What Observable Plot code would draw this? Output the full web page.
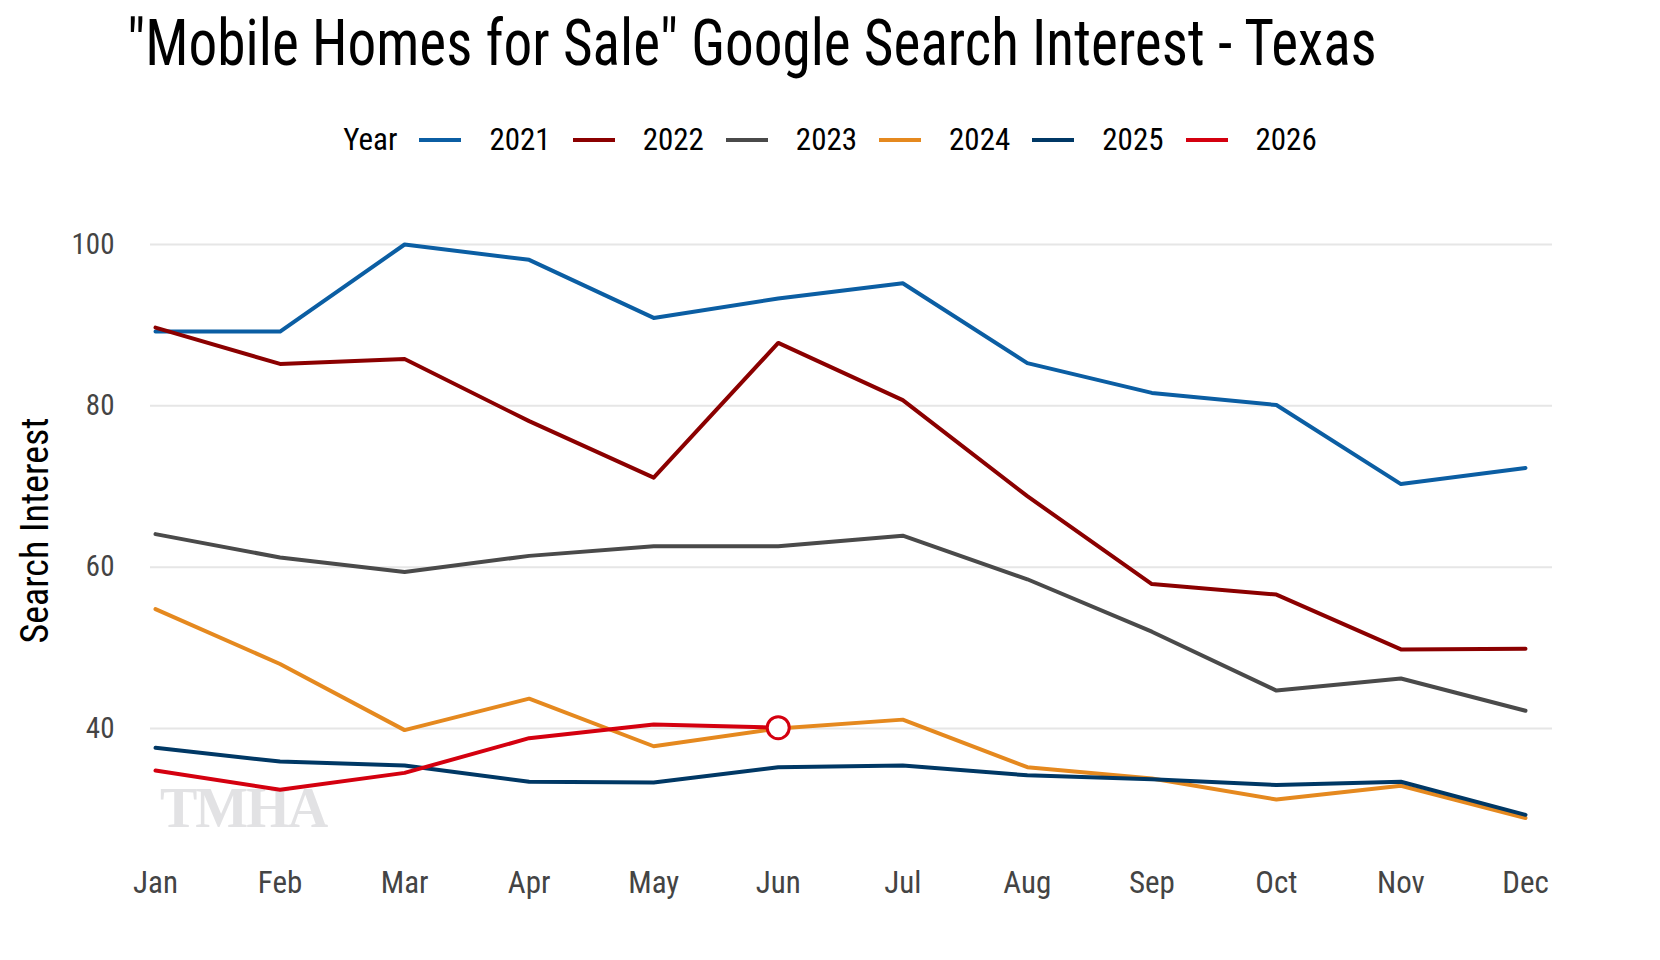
<!DOCTYPE html>
<html><head><meta charset="utf-8">
<script src="https://cdn.jsdelivr.net/npm/d3@7"></script>
<script src="https://cdn.jsdelivr.net/npm/@observablehq/plot@0.6"></script>
<style>
body{margin:0;background:#fff;font-family:"Roboto Condensed","DejaVu Sans",sans-serif;font-stretch:condensed;}
#wrap{position:relative;width:1660px;height:960px;}
#title{position:absolute;left:127px;top:6px;font-size:64px;color:#000;white-space:nowrap;transform:scaleX(0.895);transform-origin:left top;}
#legend{position:absolute;left:0;width:1660px;top:121px;display:flex;justify-content:center;align-items:center;font-size:31px;color:#000;}
#legend .it{display:flex;align-items:center;margin-left:22px;}
#legend .sw{width:42px;height:4px;margin-right:28px;}
#logo{position:absolute;left:160px;top:776px;font-size:56px;font-weight:bold;color:#e2e2e4;font-family:"Liberation Serif",serif;letter-spacing:-2px;}
#chart{position:absolute;left:0;top:0;}
svg text{font-stretch:condensed;}
</style></head><body>
<div id="wrap">
<div id="logo">TMHA</div>
<div id="chart"></div>
<div id="title">"Mobile Homes for Sale" Google Search Interest - Texas</div>
<div id="legend"></div>
</div>
<script>
const months=["Jan","Feb","Mar","Apr","May","Jun","Jul","Aug","Sep","Oct","Nov","Dec"];
const years=["2021","2022","2023","2024","2025","2026"];
const colors=["#0b5ea3","#8b0000","#4a4a4a","#e5891f","#003865","#d4000f"];
const v2021=[89.2,89.2,100,98.1,90.9,93.3,95.2,85.3,81.6,80.1,70.3,72.3];
const v2022=[89.7,85.2,85.8,78.1,71.1,87.8,80.7,68.8,57.9,56.6,49.8,49.9];
const v2023=[64.1,61.2,59.4,61.4,62.6,62.6,63.9,58.5,52.0,44.7,46.2,42.2];
const v2024=[54.8,48.0,39.8,43.7,37.8,40.0,41.1,35.2,33.8,31.2,32.9,28.9];
const v2025=[37.6,35.9,35.4,33.4,33.3,35.2,35.4,34.2,33.7,33.0,33.4,29.3];
const v2026=[34.8,32.4,34.5,38.8,40.5,40.1];
const yTicks=[40,60,80,100];
const series=[v2021,v2022,v2023,v2024,v2025,v2026];
const data=series.flatMap((s,i)=>s.map((v,j)=>({year:years[i],m:j+1,v})));
const last2026={year:"2026",m:v2026.length,v:v2026[v2026.length-1]};
const lg=document.getElementById("legend");
lg.innerHTML='<span>Year</span>'+years.map((y,i)=>`<span class="it"><span class="sw" style="background:${colors[i]}"></span>${y}</span>`).join("");
const plot=Plot.plot({
  width:1660,height:960,marginLeft:150,marginRight:108,marginTop:200,marginBottom:100,
  style:{fontFamily:'"Roboto Condensed","DejaVu Sans",sans-serif',fontSize:"30px",background:"transparent"},
  x:{domain:[1,12],range:[155,1525],tickSize:0,label:null},
  y:{domain:[40,100],range:[728,244],tickSize:0,label:null},
  color:{domain:years,range:colors},
  marks:[
    Plot.ruleY(yTicks,{stroke:"#e6e6e6",strokeWidth:2}),
    Plot.axisX({ticks:d3.range(1,13),tickFormat:d=>months[d-1],tickSize:0,tickPadding:0,fill:"#444",fontSize:31,dy:10,label:null}),
    Plot.axisY({ticks:yTicks,tickSize:0,tickPadding:36,fill:"#444",fontSize:29,label:null}),
    Plot.text(["Search Interest"],{frameAnchor:"left",textAnchor:"middle",dx:-115,dy:0,rotate:-90,fontSize:38,fill:"#000"}),
    Plot.line(data,{x:"m",y:"v",z:"year",stroke:"year",strokeWidth:4}),
    Plot.dot([last2026],{x:"m",y:"v",r:11,fill:"#fff",stroke:"#d4000f",strokeWidth:3})
  ]
});
document.getElementById("chart").appendChild(plot);
</script>
</body></html>
